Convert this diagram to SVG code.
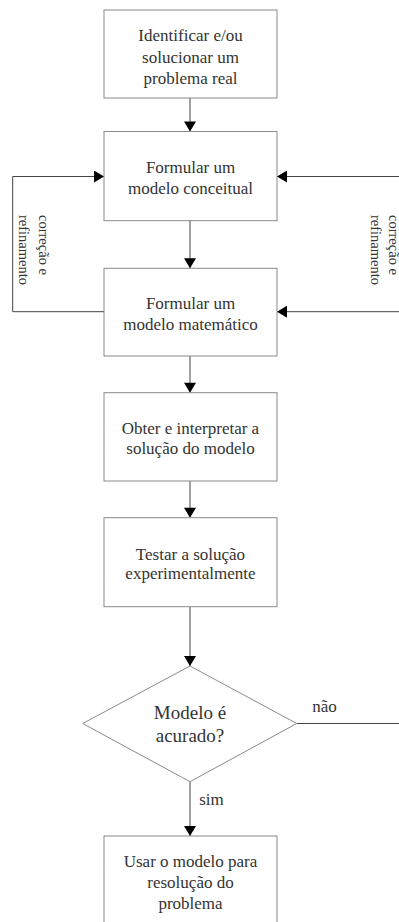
<svg xmlns="http://www.w3.org/2000/svg" width="399" height="922" viewBox="0 0 399 922" font-family="'Liberation Serif', 'DejaVu Serif', serif">
<style>
.box{fill:#fff;stroke:#8a8a8a;stroke-width:1}
text{font-family:'Liberation Serif','DejaVu Serif',serif}
.t{font-size:17px;fill:#333;text-anchor:middle}
.d{font-size:19px}
.s{font-size:14.5px;fill:#333}
.c{fill:none;stroke:#444;stroke-width:1}
</style>
<defs>
<marker id="ah" markerUnits="userSpaceOnUse" markerWidth="12" markerHeight="12" viewBox="0 0 10 12" refX="10" refY="6" orient="auto">
<path d="M0,0 L10,6 L0,12 Z" fill="#000"/>
</marker>
</defs>
<rect width="399" height="922" fill="#fff"/>
<g id="connectors">
<line class="c" x1="190" y1="98" x2="190" y2="131.5" marker-end="url(#ah)"/>
<line class="c" x1="190" y1="220.7" x2="190" y2="268.3" marker-end="url(#ah)"/>
<line class="c" x1="190" y1="356" x2="190" y2="392.7" marker-end="url(#ah)"/>
<line class="c" x1="190" y1="481" x2="190" y2="517.7" marker-end="url(#ah)"/>
<line class="c" x1="190" y1="606.7" x2="190" y2="666" marker-end="url(#ah)"/>
<line class="c" x1="190" y1="781.7" x2="190" y2="836" marker-end="url(#ah)"/>
<polyline class="c" points="104,311.7 12.7,311.7 12.7,176.5 104,176.5" marker-end="url(#ah)"/>
<line class="c" x1="400" y1="176.5" x2="277" y2="176.5" marker-end="url(#ah)"/>
<line class="c" x1="400" y1="311.7" x2="277" y2="311.7" marker-end="url(#ah)"/>
<line class="c" x1="296.7" y1="723.5" x2="400" y2="723.5"/>
<g transform="translate(38.5,215) rotate(90)"><text class="s" x="0" y="0">correção e</text></g>
<g transform="translate(18.5,215) rotate(90)"><text class="s" x="0" y="0">refinamento</text></g>
<g transform="translate(389,215) rotate(90)"><text class="s" x="0" y="0">correção e</text></g>
<g transform="translate(371,215) rotate(90)"><text class="s" x="0" y="0">refinamento</text></g>
<text class="t" x="324.5" y="712">não</text>
<text class="t" x="211.5" y="805">sim</text>
</g>
<g id="n1">
<rect class="box" x="104" y="10" width="173" height="88"/>
<text class="t" x="190.5" y="41">Identificar e/ou</text>
<text class="t" x="190.5" y="62.5">solucionar um</text>
<text class="t" x="190.5" y="84">problema real</text>
</g>
<g id="n2">
<rect class="box" x="104" y="131.5" width="173" height="89.2"/>
<text class="t" x="190.5" y="172.5">Formular um</text>
<text class="t" x="190.5" y="193.5">modelo conceitual</text>
</g>
<g id="n3">
<rect class="box" x="104" y="268.3" width="173" height="87.7"/>
<text class="t" x="190.5" y="308.5">Formular um</text>
<text class="t" x="190.5" y="329.5">modelo matemático</text>
</g>
<g id="n4">
<rect class="box" x="104" y="392.7" width="173" height="88.3"/>
<text class="t" x="190.5" y="434">Obter e interpretar a</text>
<text class="t" x="190.5" y="454">solução do modelo</text>
</g>
<g id="n5">
<rect class="box" x="104" y="517.7" width="173" height="89"/>
<text class="t" x="190.5" y="559.5">Testar a solução</text>
<text class="t" x="190.5" y="579">experimentalmente</text>
</g>
<g id="n6">
<polygon class="box" points="190,666 296.7,723.5 190,781.7 82.7,723.5"/>
<text class="t d" x="190" y="719">Modelo é</text>
<text class="t d" x="190" y="742">acurado?</text>
</g>
<g id="n7">
<rect class="box" x="104" y="836" width="173" height="100"/>
<text class="t" x="190.5" y="866.5">Usar o modelo para</text>
<text class="t" x="190.5" y="887.5">resolução do</text>
<text class="t" x="190.5" y="908.5">problema</text>
</g>
</svg>
